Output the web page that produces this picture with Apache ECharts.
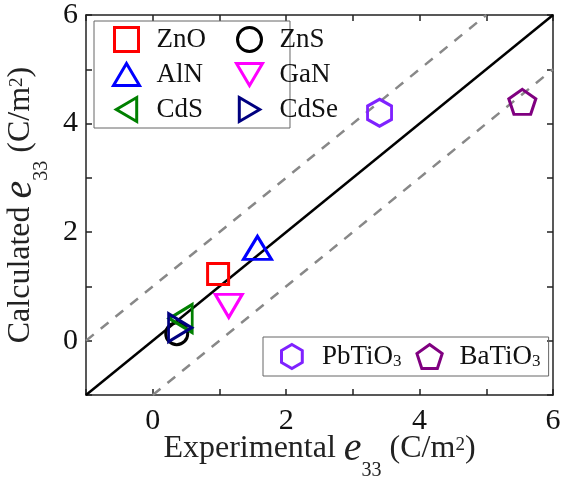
<!DOCTYPE html>
<html>
<head>
<meta charset="utf-8">
<script src="https://cdn.jsdelivr.net/npm/echarts@6/dist/echarts.min.js"></script>
<style>
  html, body { margin: 0; padding: 0; background: #fff; }
  #chart { width: 567px; height: 486px; }
</style>
</head>
<body>
<div id="chart"></div>
<script>
// material names, experimental vs calculated e33 (C/m^2)
var names = ['ZnO', 'ZnS', 'AlN', 'GaN', 'CdS', 'CdSe', 'PbTiO3', 'BaTiO3'];
var experimental = [0.98, 0.36, 1.57, 1.14, 0.42, 0.41, 3.40, 5.54];
var calculated = [1.23, 0.13, 1.71, 0.64, 0.41, 0.24, 4.20, 4.40];
var colors = ['#ff0000', '#000000', '#0000ff', '#ff00ff', '#008000', '#000080', '#7f22ff', '#800080'];
var symbols = [
  'path://M0,0 L10,0 L10,10 L0,10 Z',
  'circle',
  'path://M5,0 L10,8.5 L0,8.5 Z',
  'path://M0,0 L10,0 L5,8.5 Z',
  'path://M8.5,0 L8.5,10 L0,5 Z',
  'path://M0,0 L8.5,5 L0,10 Z',
  'path://M5,0 L9.33,2.5 L9.33,7.5 L5,10 L0.67,7.5 L0.67,2.5 Z',
  'path://M5,0 L9.76,3.45 L7.94,9.05 L2.06,9.05 L0.24,3.45 Z'
];
var sizes = [[21, 21], [22, 22], [28, 23], [27, 23], [23, 28], [23, 28], [24, 27], [27, 25]];

// reference lines y = x, y = x + 1, y = x - 1
var identityLine = [[-1, -1], [6, 6]];
var upperLine = [[-1, 0], [5, 6]];
var lowerLine = [[0, -1], [6, 5]];

var xTicks = [0, 2, 4, 6];
var yTicks = [0, 2, 4, 6];

var serif = 'Liberation Serif';
var axisColor = '#222';

var richText = {
  it: { fontFamily: serif, fontStyle: 'italic', fontSize: 40, lineHeight: 64, color: axisColor },
  sub: { fontFamily: serif, fontSize: 20, lineHeight: 20, verticalAlign: 'bottom', color: axisColor },
  sup: { fontFamily: serif, fontSize: 19, lineHeight: 19, verticalAlign: 'top', padding: [19, 0, 0, 0], color: axisColor }
};

var legendRich = {
  sub: { fontFamily: serif, fontSize: 17, lineHeight: 17, verticalAlign: 'bottom', color: '#111' }
};

function legendLabel(name) {
  return name.replace(/(\d+)$/, '{sub|$1}');
}

var chart = echarts.init(document.getElementById('chart'));

var series = names.map(function (n, i) {
  return {
    name: n,
    type: 'scatter',
    xAxisIndex: 0,
    yAxisIndex: 0,
    data: [[experimental[i], calculated[i]]],
    symbol: symbols[i],
    symbolSize: sizes[i],
    itemStyle: { color: 'rgba(255,255,255,0)', borderColor: colors[i], borderWidth: 3, opacity: 1 },
    z: 5
  };
});

series.push({
  type: 'line', data: identityLine, symbol: 'none', silent: true,
  lineStyle: { color: '#000', width: 2.5 }, z: 3
});
series.push({
  type: 'line', data: upperLine, symbol: 'none', silent: true,
  lineStyle: { color: '#888', width: 2.5, type: [10, 9] }, z: 3
});
series.push({
  type: 'line', data: lowerLine, symbol: 'none', silent: true,
  lineStyle: { color: '#888', width: 2.5, type: [10, 9] }, z: 3
});

function frameAxis(pos) {
  return {
    type: 'value', min: -1, max: 6, interval: 1, position: pos,
    axisLine: { onZero: false, lineStyle: { color: axisColor, width: 1.5 } },
    axisTick: { inside: true, length: 6, lineStyle: { color: axisColor, width: 1.5 } },
    axisLabel: { show: false },
    splitLine: { show: false }
  };
}

var xMain = frameAxis('bottom');
xMain.name = 'Experimental {it|e}{sub|33} (C/m{sup|2})';
xMain.nameLocation = 'middle';
xMain.nameMoveOverlap = false;
xMain.nameGap = 22;
xMain.nameTextStyle = { fontFamily: serif, fontSize: 32, color: axisColor, rich: richText };
xMain.axisLabel = {
  fontFamily: serif, fontSize: 30, color: '#111', margin: 11,
  formatter: function (v) { return xTicks.indexOf(v) >= 0 ? String(v) : ''; }
};

var yMain = frameAxis('left');
yMain.name = 'Calculated {it|e}{sub|33} (C/m{sup|2})';
yMain.nameLocation = 'middle';
yMain.nameGap = 10;
yMain.nameTextStyle = { fontFamily: serif, fontSize: 32, color: axisColor, rich: richText };
yMain.axisLabel = {
  fontFamily: serif, fontSize: 30, color: '#111', margin: 8,
  formatter: function (v) { return yTicks.indexOf(v) >= 0 ? String(v) : ''; }
};

var legendText = { fontFamily: serif, fontSize: 27, color: '#111', padding: [0, 0, 0, 12], rich: legendRich };
var legendItem = { borderWidth: 3, opacity: 1 };

var option = {
  animation: false,
  backgroundColor: '#fff',
  grid: { left: 86, top: 15, right: 14, bottom: 91, containLabel: false, outerBoundsMode: 'none' },
  xAxis: [xMain, frameAxis('top')],
  yAxis: [yMain, frameAxis('right')],
  legend: [{
    data: ['ZnO', 'AlN', 'CdS'],
    orient: 'vertical', left: 94, top: 21,
    padding: [5, 84, 5, 18],
    borderColor: '#666', borderWidth: 1,
    itemWidth: 26, itemHeight: 24, itemGap: 8,
    itemStyle: legendItem,
    textStyle: legendText
  }, {
    data: ['ZnS', 'GaN', 'CdSe'],
    orient: 'vertical', left: 235, top: 26,
    padding: 0,
    itemWidth: 26, itemHeight: 24, itemGap: 8,
    itemStyle: legendItem,
    textStyle: legendText
  }, {
    data: ['PbTiO3', 'BaTiO3'],
    orient: 'horizontal', left: 263, top: 337,
    padding: [6, 8, 6, 17],
    borderColor: '#666', borderWidth: 1,
    itemWidth: 26, itemHeight: 24, itemGap: 14,
    itemStyle: legendItem,
    formatter: legendLabel,
    textStyle: legendText
  }],
  series: series
};

chart.setOption(option);
</script>
</body>
</html>
